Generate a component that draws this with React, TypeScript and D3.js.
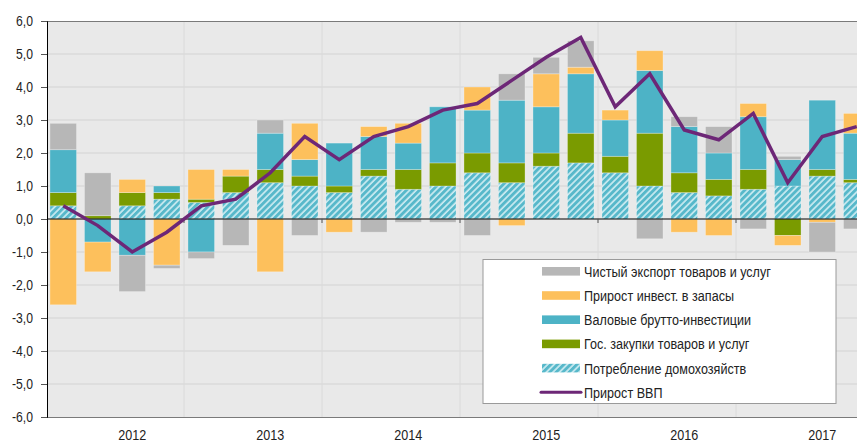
import { useEffect, useRef } from "react";
import * as d3 from "d3";

// quarters 2012Q1 .. 2017Q4
const years = ["2012", "2013", "2014", "2015", "2016", "2017"];
const quarters = years.flatMap((y) => [1, 2, 3, 4].map((q) => `${y}Q${q}`));

const households = [0.4, 0, 0.4, 0.6, 0.5, 0.8, 1.1, 1.0, 0.8, 1.3, 0.9, 1.0, 1.4, 1.1, 1.6, 1.7, 1.4, 1.0, 0.8, 0.7, 0.9, 1.0, 1.3, 1.1];
const government = [0.4, 0.1, 0.4, 0.2, 0.1, 0.5, 0.4, 0.3, 0.2, 0.2, 0.6, 0.7, 0.6, 0.6, 0.4, 0.9, 0.5, 1.6, 0.6, 0.5, 0.6, -0.5, 0.2, 0.1];
const investment = [1.3, -0.7, -1.1, 0.2, -1.0, 0, 1.1, 0.5, 1.3, 1.0, 0.8, 1.7, 1.3, 1.9, 1.4, 1.8, 1.1, 1.9, 1.4, 0.8, 1.6, 0.8, 2.1, 1.4];
const inventories = [-2.6, -0.9, 0.4, -1.4, 0.9, 0.2, -1.6, 1.1, -0.4, 0.3, 0.6, 0, 0.7, -0.2, 1.0, 0.2, 0.3, 0.6, -0.4, -0.5, 0.4, -0.3, -0.1, 0.6];
const netExports = [0.8, 1.3, -1.1, -0.1, -0.2, -0.8, 0.4, -0.5, 0, -0.4, -0.1, -0.1, -0.5, 0.8, 0.5, 0.8, 0, -0.6, 0.3, 0.8, -0.3, 0.1, -0.9, -0.3];
const gdp = [0.4, -0.2, -1.0, -0.4, 0.4, 0.6, 1.4, 2.5, 1.8, 2.5, 2.8, 3.3, 3.5, 4.2, 4.9, 5.5, 3.4, 4.4, 2.7, 2.4, 3.2, 1.1, 2.5, 2.8];

const yTicks = [6, 5, 4, 3, 2, 1, 0, -1, -2, -3, -4, -5, -6];

const seriesKeys = ["hh", "gov", "inv", "stock", "nx"];
const seriesNames = {
  nx: "Чистый экспорт товаров и услуг",
  stock: "Прирост инвест. в запасы",
  inv: "Валовые брутто-инвестиции",
  gov: "Гос. закупки товаров и услуг",
  hh: "Потребление домохозяйств",
};
const gdpName = "Прирост ВВП";

const colors = {
  nx: "#b7b7b7",
  stock: "#fdc05c",
  inv: "#4db3c6",
  gov: "#7a9b00",
  hh: "url(#hatch)",
};

export default function App() {
  const svgRef = useRef(null);

  useEffect(() => {
    const svg = d3.select(svgRef.current);
    svg.selectAll("*").remove();

    const W = 857;
    const left = 47;
    const top = 21;
    const bottom = 417;
    const font = "'Liberation Sans', Arial, sans-serif";
    const sx = 0.84; // source text looks horizontally squeezed

    const rows = quarters.map((q, i) => ({
      q,
      hh: households[i],
      gov: government[i],
      inv: investment[i],
      stock: inventories[i],
      nx: netExports[i],
    }));

    const x = d3.scaleBand().domain(quarters).range([46, 874]).paddingInner(0.23).paddingOuter(0.115);
    const y = d3.scaleLinear().domain([-6, 6]).range([bottom, top]);

    const defs = svg.append("defs");
    const pat = defs.append("pattern")
      .attr("id", "hatch")
      .attr("patternUnits", "userSpaceOnUse")
      .attr("width", 4.6)
      .attr("height", 4.6)
      .attr("patternTransform", "rotate(45)");
    pat.append("rect").attr("width", 4.6).attr("height", 4.6).attr("fill", "#57b8ca");
    pat.append("line").attr("x1", 1).attr("y1", 0).attr("x2", 1).attr("y2", 4.6)
      .attr("stroke", "#d2eef3").attr("stroke-width", 1.6);

    // plot background
    svg.append("rect").attr("x", left).attr("y", top).attr("width", W - left).attr("height", bottom - top).attr("fill", "#e9e9e9");

    // horizontal grid
    svg.append("g").selectAll("line").data(yTicks.filter((t) => t !== 0 && t !== 6 && t !== -6)).join("line")
      .attr("x1", left).attr("x2", W)
      .attr("y1", (d) => y(d)).attr("y2", (d) => y(d))
      .attr("stroke", "#d3d3d3").attr("stroke-width", 1);

    // vertical year grid
    const bounds = years.slice(1).map((yr) => x(`${yr}Q1`) - (x.step() - x.bandwidth()) / 2);
    svg.append("g").selectAll("line").data(bounds).join("line")
      .attr("x1", (d) => d).attr("x2", (d) => d)
      .attr("y1", top).attr("y2", bottom)
      .attr("stroke", "#dadada").attr("stroke-width", 1);

    // top / bottom border
    svg.append("line").attr("x1", left).attr("x2", W).attr("y1", top + 0.5).attr("y2", top + 0.5).attr("stroke", "#7a7a7a");
    svg.append("line").attr("x1", left).attr("x2", W).attr("y1", bottom + 0.5).attr("y2", bottom + 0.5).attr("stroke", "#7a7a7a");

    // stacked bars
    const stacked = d3.stack().keys(seriesKeys).offset(d3.stackOffsetDiverging)(rows);
    svg.append("g").selectAll("g").data(stacked).join("g")
      .attr("fill", (s) => colors[s.key])
      .selectAll("rect")
      .data((s) => s.filter((d) => d[1] !== d[0]))
      .join("rect")
      .attr("x", (d) => x(d.data.q))
      .attr("width", x.bandwidth())
      .attr("y", (d) => y(Math.max(d[0], d[1])))
      .attr("height", (d) => Math.abs(y(d[0]) - y(d[1])))
      .attr("stroke", "rgba(255,255,255,0.35)")
      .attr("stroke-width", 0.8);

    // zero line + ticks at year boundaries
    svg.append("line").attr("x1", left).attr("x2", W).attr("y1", y(0)).attr("y2", y(0)).attr("stroke", "#000").attr("stroke-width", 1);
    svg.append("g").selectAll("line").data(bounds).join("line")
      .attr("x1", (d) => d).attr("x2", (d) => d)
      .attr("y1", y(0)).attr("y2", y(0) + 4)
      .attr("stroke", "#555");

    // GDP line
    const line = d3.line().x((d, i) => x(quarters[i]) + x.bandwidth() / 2).y((d) => y(d));
    svg.append("path").datum(gdp).attr("d", line)
      .attr("fill", "none").attr("stroke", "#6d2777").attr("stroke-width", 3.5)
      .attr("stroke-linejoin", "miter");

    // y axis
    const yAxis = svg.append("g").attr("transform", `translate(${left},0)`)
      .call(d3.axisLeft(y).tickValues(yTicks).tickSize(6).tickFormat(() => ""));
    yAxis.select(".domain").attr("stroke", "#000");
    yAxis.selectAll(".tick line").attr("stroke", "#555");

    const fmt = (d) => d3.format(".1f")(d).replace(".", ",").replace("−", "-");
    svg.append("g").selectAll("text").data(yTicks).join("text")
      .attr("transform", (d) => `translate(33,${y(d) + 5}) scale(${sx},1)`)
      .attr("text-anchor", "end")
      .attr("font-family", font).attr("font-size", 14.5).attr("fill", "#222")
      .text(fmt);

    // year labels
    svg.append("g").selectAll("text").data(years).join("text")
      .attr("transform", (d) => `translate(${x(`${d}Q3`) + x.bandwidth() / 2},440) scale(${sx},1)`)
      .attr("text-anchor", "middle")
      .attr("font-family", font).attr("font-size", 15).attr("fill", "#222")
      .text((d) => d);

    // legend
    const lg = svg.append("g");
    lg.append("rect").attr("x", 483).attr("y", 259.5).attr("width", 353).attr("height", 144)
      .attr("fill", "#fff").attr("stroke", "#9a9a9a");
    const items = [...["nx", "stock", "inv", "gov", "hh"].map((k) => ({ k, name: seriesNames[k] })), { k: "gdp", name: gdpName }];
    items.forEach((it, i) => {
      const cy = 271.3 + i * 24.2;
      if (it.k === "gdp") {
        lg.append("line").attr("x1", 541).attr("x2", 581).attr("y1", cy).attr("y2", cy)
          .attr("stroke", "#6d2777").attr("stroke-width", 3).attr("stroke-linecap", "round");
      } else {
        lg.append("rect").attr("x", 542).attr("y", cy - 4.3).attr("width", 38).attr("height", 8.6).attr("fill", colors[it.k]);
      }
      lg.append("text").attr("transform", `translate(584,${cy + 5.4}) scale(${sx},1)`)
        .attr("font-family", font).attr("font-size", 15).attr("fill", "#222")
        .text(it.name);
    });
  }, []);

  return <svg ref={svgRef} width={857} height={442} style={{ position: "absolute", left: 0, top: 0, background: "#fff" }} />;
}
